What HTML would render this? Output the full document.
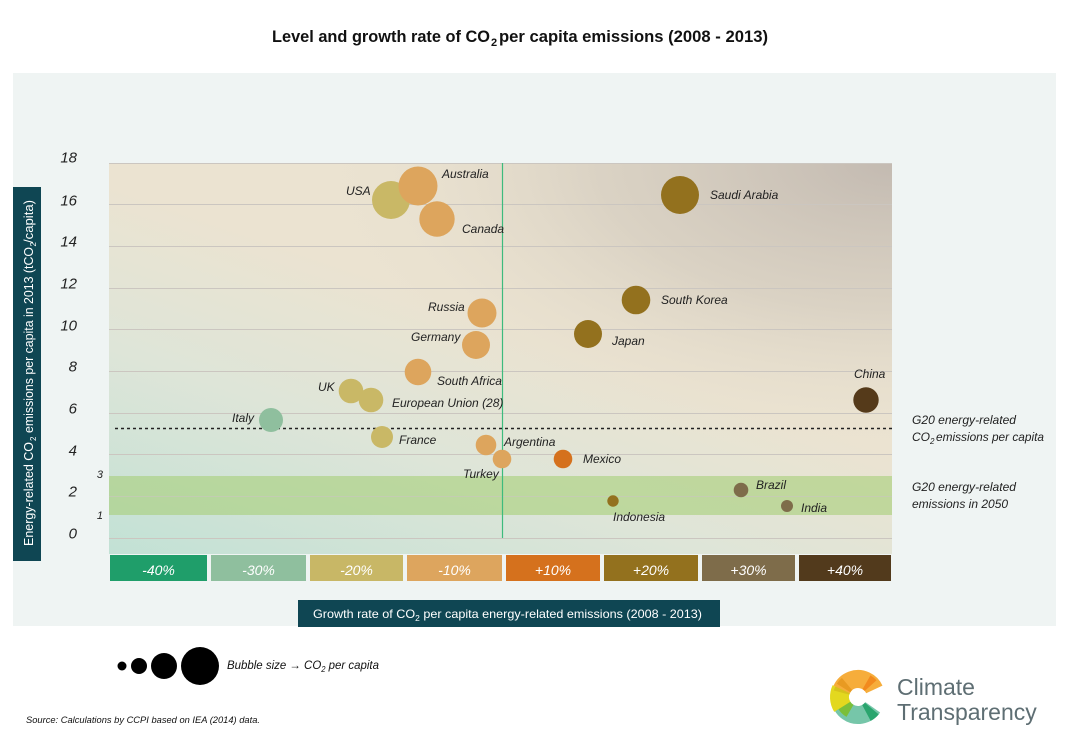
<!DOCTYPE html>
<html>
<head>
<meta charset="utf-8">
<style>
  html,body{margin:0;padding:0;background:#ffffff;}
  svg{display:block;}
  text{font-family:"Liberation Sans", Arial, sans-serif;}
</style>
</head>
<body>
<svg width="1068" height="750" viewBox="0 0 1068 750" xmlns="http://www.w3.org/2000/svg">
  <defs>
    <linearGradient id="base" x1="0" y1="1" x2="0.55" y2="0.2">
      <stop offset="0" stop-color="#c2e1d5"/>
      <stop offset="0.45" stop-color="#dee5d8"/>
      <stop offset="0.8" stop-color="#ebe3d1"/>
      <stop offset="1" stop-color="#ebe3d1"/>
    </linearGradient>
    <radialGradient id="tr" cx="1" cy="0" r="0.75">
      <stop offset="0" stop-color="#c3bab1" stop-opacity="1"/>
      <stop offset="0.5" stop-color="#cfc7bb" stop-opacity="0.6"/>
      <stop offset="1" stop-color="#ebe3d1" stop-opacity="0"/>
    </radialGradient>
  </defs>

  <!-- Title -->
  <text x="272" y="42" font-size="17" font-weight="bold" fill="#111" textLength="218" lengthAdjust="spacingAndGlyphs">Level and growth rate of CO</text>
  <text x="491" y="46" font-size="11" font-weight="bold" fill="#111">2</text>
  <text x="499" y="42" font-size="17" font-weight="bold" fill="#111" textLength="269" lengthAdjust="spacingAndGlyphs">per capita emissions (2008 - 2013)</text>

  <!-- Panel background -->
  <rect x="13" y="73" width="1043" height="553" fill="#eff4f3"/>

  <!-- Plot background -->
  <rect x="109" y="163" width="783" height="391" fill="url(#base)"/>
  <rect x="109" y="163" width="783" height="391" fill="url(#tr)"/>

  <!-- Green band -->
  <rect x="109" y="476" width="783" height="39" fill="#a6cf78" opacity="0.6"/>

  <!-- Gridlines -->
  <g stroke="#cbc6c0" stroke-width="1">
    <line x1="109" y1="163.5" x2="892" y2="163.5"/>
    <line x1="109" y1="204.5" x2="892" y2="204.5"/>
    <line x1="109" y1="246.5" x2="892" y2="246.5"/>
    <line x1="109" y1="288.5" x2="892" y2="288.5"/>
    <line x1="109" y1="329.5" x2="892" y2="329.5"/>
    <line x1="109" y1="371.5" x2="892" y2="371.5"/>
    <line x1="109" y1="413.5" x2="892" y2="413.5"/>
    <line x1="109" y1="454.5" x2="892" y2="454.5"/>
    <line x1="109" y1="496.5" x2="892" y2="496.5" opacity="0.6"/>
    <line x1="109" y1="538.5" x2="892" y2="538.5"/>
  </g>

  <!-- Vertical zero line -->
  <line x1="502.5" y1="163" x2="502.5" y2="538" stroke="#3dbb7d" stroke-width="1.2"/>

  <!-- Dashed G20 average line -->
  <line x1="115" y1="428.5" x2="892" y2="428.5" stroke="#222" stroke-width="1.4" stroke-dasharray="3,3"/>

  <!-- Y axis labels -->
  <g font-size="15" font-style="italic" fill="#222" text-anchor="end">
    <text x="77" y="162.5">18</text>
    <text x="77" y="205.5">16</text>
    <text x="77" y="246.5">14</text>
    <text x="77" y="288.5">12</text>
    <text x="77" y="330.5">10</text>
    <text x="77" y="371.5">8</text>
    <text x="77" y="413.5">6</text>
    <text x="77" y="455.5">4</text>
    <text x="77" y="496.5">2</text>
    <text x="77" y="538.5">0</text>
  </g>
  <g font-size="11" font-style="italic" fill="#222" text-anchor="end">
    <text x="103" y="478">3</text>
    <text x="103" y="519">1</text>
  </g>

  <!-- Y axis title box -->
  <rect x="13" y="187" width="28" height="374" fill="#0f4653"/>
  <g transform="translate(33,546) rotate(-90)" fill="#ffffff" font-size="13">
    <text x="0" y="0" textLength="104" lengthAdjust="spacingAndGlyphs">Energy-related CO</text>
    <text x="105" y="3" font-size="8">2</text>
    <text x="113" y="0" textLength="186" lengthAdjust="spacingAndGlyphs">emissions per capita in 2013 (tCO</text>
    <text x="299.5" y="3" font-size="8">2</text>
    <text x="303" y="0" textLength="43" lengthAdjust="spacingAndGlyphs">/capita)</text>
  </g>

  <!-- Bubbles -->
  <circle cx="391" cy="200" r="19" fill="#c9b866"/>
  <circle cx="418" cy="186" r="19.5" fill="#dda55d"/>
  <circle cx="437" cy="219" r="17.7" fill="#dda55d"/>
  <circle cx="482" cy="313" r="14.5" fill="#dda55d"/>
  <circle cx="476" cy="345" r="14" fill="#dda55d"/>
  <circle cx="418" cy="372" r="13.3" fill="#dda55d"/>
  <circle cx="351" cy="391" r="12.3" fill="#c9b866"/>
  <circle cx="371" cy="400" r="12.3" fill="#c9b866"/>
  <circle cx="382" cy="437" r="11" fill="#c9b866"/>
  <circle cx="486" cy="445" r="10.3" fill="#dda55d"/>
  <circle cx="502" cy="459" r="9.3" fill="#dda55d"/>
  <circle cx="563" cy="459" r="9.3" fill="#d5711d"/>
  <circle cx="613" cy="501" r="5.7" fill="#93711e"/>
  <circle cx="680" cy="195" r="19" fill="#93711e"/>
  <circle cx="636" cy="300" r="14.3" fill="#93711e"/>
  <circle cx="588" cy="334" r="14" fill="#93711e"/>
  <circle cx="866" cy="400" r="12.7" fill="#553a1a"/>
  <circle cx="741" cy="490" r="7.3" fill="#7e6c4a"/>
  <circle cx="787" cy="506" r="6" fill="#7e6c4a"/>
  <circle cx="271" cy="420" r="12" fill="#8fbf9e"/>

  <!-- Country labels -->
  <g font-size="12" font-style="italic" fill="#222">
    <text x="442" y="178">Australia</text>
    <text x="346" y="195">USA</text>
    <text x="462" y="233">Canada</text>
    <text x="428" y="311">Russia</text>
    <text x="411" y="341">Germany</text>
    <text x="437" y="385">South Africa</text>
    <text x="318" y="391">UK</text>
    <text x="392" y="407">European Union (28)</text>
    <text x="399" y="444">France</text>
    <text x="504" y="446">Argentina</text>
    <text x="463" y="478">Turkey</text>
    <text x="583" y="463">Mexico</text>
    <text x="710" y="199">Saudi Arabia</text>
    <text x="661" y="304">South Korea</text>
    <text x="612" y="345">Japan</text>
    <text x="854" y="378">China</text>
    <text x="756" y="489">Brazil</text>
    <text x="801" y="512">India</text>
    <text x="613" y="521">Indonesia</text>
    <text x="232" y="422">Italy</text>
  </g>

  <!-- Right-side annotations -->
  <g font-size="12" font-style="italic" fill="#222">
    <text x="912" y="424" textLength="104" lengthAdjust="spacingAndGlyphs">G20 energy-related</text>
    <text x="912" y="441">CO</text>
    <text x="930" y="444" font-size="8">2</text>
    <text x="936" y="441" textLength="108" lengthAdjust="spacingAndGlyphs">emissions per capita</text>
    <text x="912" y="491" textLength="104" lengthAdjust="spacingAndGlyphs">G20 energy-related</text>
    <text x="912" y="508">emissions in 2050</text>
  </g>

  <!-- Colour bar -->
  <rect x="110" y="555" width="97" height="26" fill="#1f9e6a"/>
  <rect x="211" y="555" width="95" height="26" fill="#8fbf9e"/>
  <rect x="310" y="555" width="93" height="26" fill="#c8b766"/>
  <rect x="407" y="555" width="95" height="26" fill="#dda55e"/>
  <rect x="506" y="555" width="94" height="26" fill="#d5711d"/>
  <rect x="604" y="555" width="94" height="26" fill="#93711e"/>
  <rect x="702" y="555" width="93" height="26" fill="#7e6c4a"/>
  <rect x="799" y="555" width="92" height="26" fill="#523a1c"/>
  <g font-size="14" font-style="italic" fill="#ffffff" text-anchor="middle">
    <text x="158.5" y="575">-40%</text>
    <text x="258.5" y="575">-30%</text>
    <text x="356.5" y="575">-20%</text>
    <text x="454.5" y="575">-10%</text>
    <text x="553" y="575">+10%</text>
    <text x="651" y="575">+20%</text>
    <text x="748.5" y="575">+30%</text>
    <text x="845" y="575">+40%</text>
  </g>

  <!-- X axis title box -->
  <rect x="298" y="600" width="422" height="27" fill="#0f4653"/>
  <text x="313" y="618" fill="#ffffff" font-size="12" textLength="389" lengthAdjust="spacingAndGlyphs">Growth rate of CO<tspan dy="3" font-size="8">2</tspan><tspan dy="-3"> per capita energy-related emissions (2008 - 2013)</tspan></text>

  <!-- Bubble size legend -->
  <circle cx="122" cy="666" r="4.5" fill="#000"/>
  <circle cx="139" cy="666" r="8" fill="#000"/>
  <circle cx="164" cy="666" r="13" fill="#000"/>
  <circle cx="200" cy="666" r="19" fill="#000"/>
  <text x="227" y="669" font-size="12" font-style="italic" fill="#111" textLength="152" lengthAdjust="spacingAndGlyphs">Bubble size → CO<tspan dy="3" font-size="8">2</tspan><tspan dy="-3"> per capita</tspan></text>

  <!-- Source -->
  <text x="26" y="723" font-size="9.5" font-style="italic" fill="#111" textLength="234" lengthAdjust="spacingAndGlyphs">Source: Calculations by CCPI based on IEA (2014) data.</text>

  <!-- Logo -->
  <g fill="none">
    <!-- green teal 35->150 -->
    <circle cx="858" cy="697" r="18" stroke="#76c6a9" stroke-width="18" stroke-dasharray="36.1 200" transform="rotate(35 858 697)"/>
    <circle cx="858" cy="697" r="18" stroke="#2aa56e" stroke-width="18" stroke-dasharray="6.9 200" transform="rotate(40 858 697)"/>
    <circle cx="858" cy="697" r="16" stroke="#7bbf3a" stroke-width="14" stroke-dasharray="8.5 200" transform="rotate(120 858 697)"/>
    <!-- yellow 148->205 -->
    <circle cx="858" cy="697" r="18.5" stroke="#e3d81f" stroke-width="19" stroke-dasharray="18.4 200" transform="rotate(148 858 697)"/>
    <circle cx="858" cy="697" r="17" stroke="#d6c21c" stroke-width="16" stroke-dasharray="6.5 200" transform="rotate(195 858 697)"/>
    <!-- orange 205->335 -->
    <circle cx="858" cy="697" r="18" stroke="#f6ad3b" stroke-width="18" stroke-dasharray="40.8 200" transform="rotate(205 858 697)"/>
    <circle cx="858" cy="697" r="17" stroke="#e89a22" stroke-width="16" stroke-dasharray="5.3 200" transform="rotate(212 858 697)"/>
    <circle cx="858" cy="697" r="17" stroke="#f28a1e" stroke-width="16" stroke-dasharray="5.3 200" transform="rotate(300 858 697)"/>
  </g>
  <g font-size="23" fill="#5e6e73">
    <text x="897" y="695">Climate</text>
    <text x="897" y="720">Transparency</text>
  </g>
</svg>
</body>
</html>
